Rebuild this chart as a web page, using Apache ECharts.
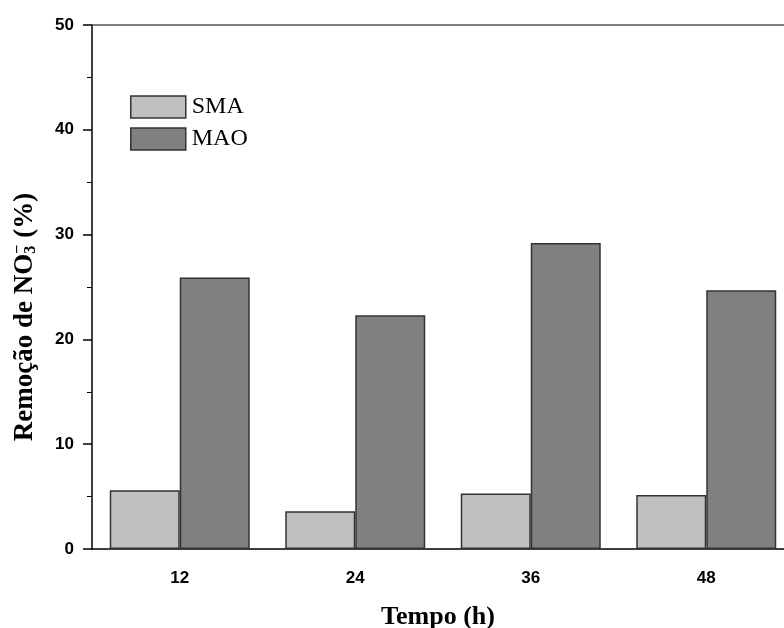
<!DOCTYPE html>
<html>
<head>
<meta charset="utf-8">
<script src="https://cdn.jsdelivr.net/npm/echarts@6/dist/echarts.min.js"></script>
<style>
  html, body { margin: 0; padding: 0; background: #fff; }
  #chart { width: 784px; height: 628px; }
</style>
</head>
<body>
<div id="chart"></div>
<script>
var categories = ['12', '24', '36', '48'];
var smaValues = [5.6, 3.6, 5.3, 5.15];
var maoValues = [25.9, 22.3, 29.2, 24.7];
var seriesNames = ['SMA', 'MAO'];

var myChart = echarts.init(document.getElementById('chart'));
var serif = '"Liberation Serif", "DejaVu Serif", serif';
var sans = '"Liberation Sans", Arial, sans-serif';

var option = {
    backgroundColor: '#fff',
    animation: false,
    grid: { left: 92, top: 25, width: 702, bottom: 79, outerBoundsMode: 'none', containLabel: false },
    legend: {
        orient: 'vertical',
        left: 125, top: 90,
        itemWidth: 55, itemHeight: 22, itemGap: 8,
        icon: 'rect',
        data: seriesNames,
        itemStyle: { borderColor: '#333', borderWidth: 1.5 },
        textStyle: { fontFamily: serif, fontSize: 24, lineHeight: 22, color: '#000', padding: [2, 0, 0, 1] }
    },
    xAxis: [
        {
            type: 'category',
            data: categories,
            position: 'bottom',
            axisLine: { lineStyle: { color: '#000', width: 1.5 } },
            axisTick: { alignWithLabel: true, length: 8, lineStyle: { color: '#000', width: 1.5 } },
            axisLabel: { fontFamily: sans, fontWeight: 'bold', fontSize: 17, color: '#000', margin: 21 },
            name: 'Tempo (h)',
            nameLocation: 'middle',
            nameGap: 55,
            nameTextStyle: { fontFamily: serif, fontWeight: 'bold', fontSize: 26, color: '#000', padding: [0, 10, 0, 0] }
        },
        {
            type: 'category',
            data: categories,
            position: 'bottom',
            axisLine: { show: false },
            axisTick: { alignWithLabel: false, length: 4, lineStyle: { color: '#000', width: 1 } },
            axisLabel: { show: false }
        },
        {
            type: 'category',
            data: categories,
            position: 'top',
            axisLine: { lineStyle: { color: '#555', width: 1.5 } },
            axisTick: { show: false },
            axisLabel: { show: false }
        }
    ],
    yAxis: {
        type: 'value',
        min: 0, max: 50, interval: 10,
        axisLine: { show: true, lineStyle: { color: '#000', width: 1.5 } },
        axisTick: { show: true, length: 9, lineStyle: { color: '#000', width: 1.5 } },
        minorTick: { show: true, splitNumber: 2, length: 5, lineStyle: { color: '#000', width: 1 } },
        splitLine: { show: false },
        axisLabel: { fontFamily: sans, fontWeight: 'bold', fontSize: 17, color: '#000', margin: 18 },
        name: '{a|Remoção de NO}{sub|3}{sup|−}{a| (%)}',
        nameLocation: 'middle',
        nameGap: 52,
        nameTextStyle: {
            fontFamily: serif, fontWeight: 'bold', fontSize: 27, color: '#000',
            padding: [0, 0, 0, -60],
            rich: {
                a: { fontFamily: serif, fontWeight: 'bold', fontSize: 27, color: '#000' },
                sub: { fontFamily: serif, fontWeight: 'bold', fontSize: 16, color: '#000', padding: [12, 0, 0, 0] },
                sup: { fontFamily: serif, fontWeight: 'bold', fontSize: 16, color: '#000', padding: [0, 0, 14, -8] }
            }
        }
    },
    series: [
        {
            name: seriesNames[0],
            type: 'bar',
            data: smaValues,
            barWidth: 70,
            barGap: '0%',
            itemStyle: { color: '#c0c0c0', borderColor: '#333', borderWidth: 1.5 }
        },
        {
            name: seriesNames[1],
            type: 'bar',
            data: maoValues,
            barWidth: 70,
            barGap: '0%',
            itemStyle: { color: '#808080', borderColor: '#333', borderWidth: 1.5 }
        }
    ]
};
myChart.setOption(option);
</script>
</body>
</html>
